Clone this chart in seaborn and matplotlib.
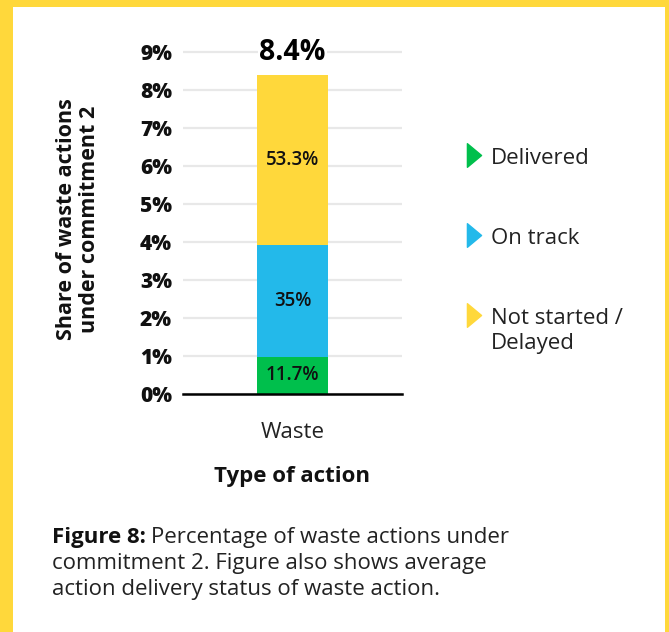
import matplotlib
matplotlib.use("Agg")
import matplotlib.pyplot as plt
from matplotlib.patches import Rectangle
from matplotlib.path import Path
import seaborn as sns
import numpy as np

# ---------------- data ----------------
category = ["Waste"]
total_share = [8.4]                      # % of actions under commitment 2
statuses = ["Delivered", "On track", "Not started /\nDelayed"]
status_pct = [11.7, 35.0, 53.3]          # delivery status split (%)
status_labels = ["11.7%", "35%", "53.3%"]
total_label = "8.4%"
yticks = [0, 1, 2, 3, 4, 5, 6, 7, 8, 9]
ytick_labels = [f"{t}%" for t in yticks]

colors = ["#00bf4c", "#23b9ea", "#ffd83b"]
frame_yellow = "#ffd83b"

sns.set_theme(style="white")
plt.rcParams['font.family'] = ['Open Sans', 'DejaVu Sans']

W, H = 669, 632
fig = plt.figure(figsize=(W / 100, H / 100), dpi=100)
fig.patch.set_facecolor("white")

px_per_unit = 38.0
y0_px = 394
ytop = 9.06
top_px = y0_px - ytop * px_per_unit
ax = fig.add_axes([183 / W, 1 - y0_px / H, 219 / W, (y0_px - top_px) / H])

seg = [total_share[0] * p / 100 for p in status_pct]
cum = np.cumsum(seg)

# stacked bar: draw cumulative heights, tallest first
for i in reversed(range(len(statuses))):
    sns.barplot(x=category, y=[cum[i]], color=colors[i], width=0.324,
                saturation=1, edgecolor="none", linewidth=0, ax=ax, zorder=2)

for i in range(len(statuses)):
    ax.text(0, cum[i] - seg[i] / 2, status_labels[i], ha="center", va="center",
            fontsize=13.5, fontweight="semibold", color="#111111", zorder=3)

ax.text(0, 9.0, total_label, ha="center", va="center", fontsize=20.5,
        fontweight="bold", color="#000000", zorder=4,
        bbox=dict(boxstyle="square,pad=0.05", fc="white", ec="none"))

ax.set_xlim(-0.5, 0.5)
ax.set_ylim(0, ytop)
ax.set_yticks(yticks)
ax.set_yticklabels(ytick_labels, fontsize=15, fontweight="heavy", color="#111111")
ax.tick_params(axis="y", length=0, pad=8)
ax.tick_params(axis="x", length=0, pad=20, labelsize=16, labelcolor="#222222")
ax.yaxis.grid(True, color="#e8e8e8", linewidth=1.6)
ax.set_axisbelow(True)
for s in ["left", "right", "top"]:
    ax.spines[s].set_visible(False)
ax.spines["bottom"].set_color("#000000")
ax.spines["bottom"].set_linewidth(1.8)
ax.spines["bottom"].set_zorder(5)
ax.set_ylabel("")
ax.set_xlabel("Type of action", fontsize=16, fontweight="bold", color="#111111",
              labelpad=17)

fig.text(78 / W, 1 - 219 / H, "Share of waste actions\nunder commitment 2",
         rotation=90, ha="center", va="center", fontsize=15.5, fontweight="bold",
         color="#111111", linespacing=1.1)

# overlay in pixel coordinates: frame, legend, caption
ov = fig.add_axes([0, 0, 1, 1], zorder=-1)
ov.set_xlim(0, W)
ov.set_ylim(H, 0)
ov.axis("off")
ov.patch.set_alpha(0)

ov.add_patch(Rectangle((0, 0), 13, H, color=frame_yellow, lw=0))
ov.add_patch(Rectangle((0, 0), W, 7, color=frame_yellow, lw=0))
ov.add_patch(Rectangle((665, 0), 4, H, color=frame_yellow, lw=0))

tri = Path([(-0.3, -0.5), (-0.3, 0.5), (0.3, 0.0), (-0.3, -0.5)],
           [Path.MOVETO, Path.LINETO, Path.LINETO, Path.CLOSEPOLY])
leg_y = [155, 235, 315]
text_y = [158, 238, 331]
for i in range(len(statuses)):
    ov.plot([474], [leg_y[i]], marker=tri, markersize=17, color=colors[i],
            linestyle="none")
    ov.text(491, text_y[i], statuses[i], ha="left", va="center", fontsize=16,
            color="#222222", linespacing=1.22)

cap_lines = ["Percentage of waste actions under",
             "commitment 2. Figure also shows average",
             "action delivery status of waste action."]
cap_y = [538, 564, 590]
b = ov.text(52, cap_y[0], "Figure 8:", ha="left", va="center", fontsize=16,
            fontweight="bold", color="#111111")
fig.canvas.draw()
bb = b.get_window_extent(fig.canvas.get_renderer())
x_after = bb.x1 / fig.dpi * 100 + 5
ov.text(x_after, cap_y[0], cap_lines[0], ha="left", va="center", fontsize=16,
        color="#222222")
for ln, yy in zip(cap_lines[1:], cap_y[1:]):
    ov.text(52, yy, ln, ha="left", va="center", fontsize=16, color="#222222")

fig.savefig("out.png", dpi=100, facecolor="white")
